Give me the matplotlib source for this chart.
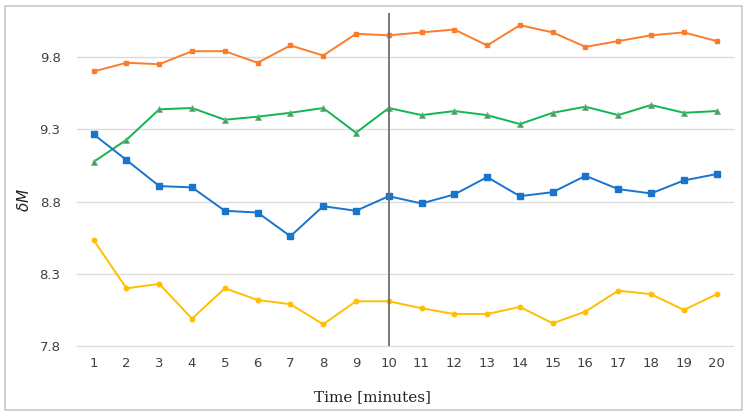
import matplotlib.pyplot as plt
from matplotlib.patches import Rectangle

# Data
time = list(range(1, 21))
orange = [9.70, 9.76, 9.75, 9.84, 9.84, 9.76, 9.88, 9.81, 9.96, 9.95,
          9.97, 9.99, 9.88, 10.02, 9.97, 9.87, 9.91, 9.95, 9.97, 9.91]
green = [9.075, 9.227, 9.438, 9.447, 9.366, 9.387, 9.414, 9.447, 9.276, 9.447,
         9.398, 9.426, 9.398, 9.336, 9.414, 9.456, 9.398, 9.468, 9.414, 9.426]
blue = [9.265, 9.087, 8.907, 8.898, 8.736, 8.724, 8.560, 8.768, 8.736, 8.837,
        8.787, 8.849, 8.969, 8.837, 8.865, 8.978, 8.886, 8.856, 8.946, 8.990]
yellow = [8.533, 8.200, 8.230, 7.990, 8.200, 8.119, 8.090, 7.951, 8.110, 8.110,
          8.062, 8.022, 8.022, 8.071, 7.958, 8.039, 8.184, 8.159, 8.050, 8.159]
yticks = [7.8, 8.3, 8.8, 9.3, 9.8]
marker_time = 10

fig = plt.figure(figsize=(7.46, 4.16), dpi=100)
ax = fig.add_axes([0.1036, 0.168, 0.879, 0.801])

# light border around the whole chart
fig.patches.append(Rectangle((5 / 746, 6 / 416), 737 / 746, 404 / 416,
                             transform=fig.transFigure, fill=False,
                             edgecolor='#c8c8c8', linewidth=1.2))

ax.plot(time, orange, color='#fb7d2c', linewidth=1.4, marker='s', markersize=3.2)
ax.plot(time, green, color='#12b552', linewidth=1.4, marker='^', markersize=3.8,
        markerfacecolor='#3aa35e', markeredgecolor='#7fb08c', markeredgewidth=0.6)
ax.plot(time, blue, color='#1874cd', linewidth=1.4, marker='s', markersize=5)
ax.plot(time, yellow, color='#ffbf00', linewidth=1.4, marker='o', markersize=3.2)

ax.axvline(marker_time, color='#6e6e6e', linewidth=1.3)

ax.set_xlim(0.5, 20.5)
ax.set_ylim(7.8, 10.105)
ax.set_xticks(time)
ax.set_yticks(yticks)
ax.set_yticklabels([f'{v:.1f}' for v in yticks])
ax.grid(axis='y', color='#dcdcdc', linewidth=1)
for gl in ax.get_ygridlines():
    gl.set_clip_on(False)
ax.set_axisbelow(True)
for s in ax.spines.values():
    s.set_visible(False)
ax.tick_params(length=0, labelsize=9.5, colors='#404040', pad=8)
ax.tick_params(axis='y', pad=12)

ax.set_xlabel('Time [minutes]', family='DejaVu Serif', fontsize=11, color='#222222')
ax.xaxis.set_label_coords(0.45, -0.132)
ax.set_ylabel(r'$\delta M$', fontsize=11, color='#222222')
ax.yaxis.set_label_coords(-0.069, 0.44)

fig.savefig('out.png', dpi=100)
